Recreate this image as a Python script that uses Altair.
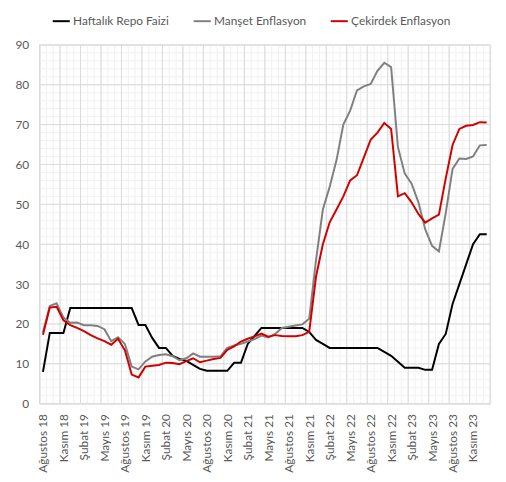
import altair as alt
import pandas as pd

tick_labels = ["Ağustos 18", "Kasım 18", "Şubat 19", "Mayıs 19", "Ağustos 19", "Kasım 19",
               "Şubat 20", "Mayıs 20", "Ağustos 20", "Kasım 20", "Şubat 21", "Mayıs 21",
               "Ağustos 21", "Kasım 21", "Şubat 22", "Mayıs 22", "Ağustos 22", "Kasım 22",
               "Şubat 23", "Mayıs 23", "Ağustos 23", "Kasım 23"]

series_names = ["Haftalık Repo Faizi", "Manşet Enflasyon", "Çekirdek Enflasyon"]
series_colors = ["#000000", "#808080", "#d00000"]

repo = [8, 17.75, 17.75, 17.75, 24, 24, 24, 24, 24, 24, 24, 24, 24, 24,
        19.75, 19.75, 16.5, 14, 14, 12, 11.25, 10.75, 9.75, 8.75, 8.25, 8.25, 8.25, 8.25,
        10.25, 10.25, 15, 17, 19, 19, 19, 19, 19, 19, 19, 18, 16, 15,
        14, 14, 14, 14, 14, 14, 14, 14, 13, 12, 10.5, 9, 9, 9, 8.5, 8.5,
        15, 17.5, 25, 30, 35, 40, 42.5, 42.5]

manset = [17.9, 24.5, 25.2, 21.6, 20.3, 20.35, 19.7, 19.7, 19.5, 18.7, 15.7, 16.7, 15.0,
          9.3, 8.6, 10.6, 11.8, 12.2, 12.4, 11.9, 10.9, 11.4, 12.6, 11.8, 11.8, 11.8, 11.9,
          14.0, 14.6, 15.0, 15.6, 16.2, 17.1, 16.6, 17.5, 19.0, 19.3, 19.6, 19.9, 21.3,
          36.1, 48.7, 54.4, 61.1, 70.0, 73.5, 78.6, 79.6, 80.2, 83.5, 85.5, 84.4,
          64.3, 57.7, 55.2, 50.5, 43.7, 39.6, 38.2, 47.8, 58.9, 61.5, 61.4, 62.0, 64.8, 64.9]

cekirdek = [17.3, 24.1, 24.3, 20.9, 19.7, 19.0, 18.2, 17.2, 16.4, 15.7, 14.8, 16.3, 13.4,
            7.3, 6.6, 9.3, 9.5, 9.7, 10.3, 10.2, 9.9, 10.7, 11.4, 10.4, 10.8, 11.2, 11.5,
            13.5, 14.4, 15.6, 16.3, 16.9, 17.6, 16.8, 17.2, 17.0, 16.9, 16.9, 17.2, 18.0,
            31.9, 40.0, 45.5, 48.7, 52.0, 56.0, 57.3, 61.7, 66.2, 68.0, 70.4, 68.9,
            52.0, 52.8, 50.5, 47.6, 45.4, 46.5, 47.4, 56.5, 64.9, 68.9, 69.7, 69.9, 70.6, 70.5]

n = len(repo)
rows = []
for name, vals in zip(series_names, [repo, manset, cekirdek]):
    for i, v in enumerate(vals):
        rows.append({"i": i, "value": v, "series": name, "order": series_names.index(name)})
df = pd.DataFrame(rows)

xscale = alt.Scale(domain=[-0.5, n - 0.5], nice=False, zero=False)
yscale = alt.Scale(domain=[0, 90], nice=False)

label_arr = "[" + ",".join("'" + s + "'" for s in tick_labels) + "]"
xaxis = alt.Axis(values=list(range(0, 3 * len(tick_labels), 3)), title=None,
                 grid=False, ticks=False, domain=False, labelAngle=270,
                 labelPadding=10, labelFontSize=12, labelColor="#595959",
                 labelFont="Lato", labelOverlap=False,
                 labelExpr=label_arr + "[round(datum.value/3)]")
yaxis = alt.Axis(values=list(range(0, 91, 10)), title=None, grid=False,
                 ticks=False, domain=False, labelPadding=11, labelFontSize=12,
                 labelColor="#595959", labelFont="Lato")

vminor = pd.DataFrame({"x": [k - 0.5 for k in range(n + 1)]})
vmajor = pd.DataFrame({"x": [k - 0.5 for k in range(0, n + 1, 3)]})
hminor = pd.DataFrame({"y": list(range(0, 91, 2))})
hmajor = pd.DataFrame({"y": list(range(0, 91, 10))})

g1 = alt.Chart(vminor).mark_rule(color="#f0f0f0", strokeWidth=1).encode(
    x=alt.X("x:Q", scale=xscale, axis=xaxis))
g2 = alt.Chart(hminor).mark_rule(color="#f0f0f0", strokeWidth=1).encode(
    y=alt.Y("y:Q", scale=yscale, axis=yaxis))
g3 = alt.Chart(vmajor).mark_rule(color="#d9d9d9", strokeWidth=1).encode(
    x=alt.X("x:Q", scale=xscale, axis=xaxis))
g4 = alt.Chart(hmajor).mark_rule(color="#d9d9d9", strokeWidth=1).encode(
    y=alt.Y("y:Q", scale=yscale, axis=yaxis))

lines = alt.Chart(df).mark_line(strokeWidth=2).encode(
    x=alt.X("i:Q", scale=xscale, axis=xaxis),
    y=alt.Y("value:Q", scale=yscale, axis=yaxis),
    color=alt.Color("series:N", scale=alt.Scale(domain=series_names, range=series_colors),
                    legend=alt.Legend(title=None, orient="none", direction="horizontal",
                                      legendX=12, legendY=-34, symbolType="stroke",
                                      symbolStrokeWidth=2, symbolSize=300,
                                      labelFontSize=12, labelColor="#595959",
                                      labelFont="Lato", columnPadding=20, labelOffset=2)),
    order=alt.Order("order:Q"),
    detail="series:N",
)

chart = alt.layer(g1, g2, g3, g4, lines).properties(
    width=457, height=364,
    autosize=alt.AutoSizeParams(type="none"),
    padding={"left": 32, "top": 34, "right": 8, "bottom": 74},
).configure_view(stroke="#d9d9d9", strokeWidth=1)

chart.save("out.html", embed_options={"renderer": "svg", "actions": False})
